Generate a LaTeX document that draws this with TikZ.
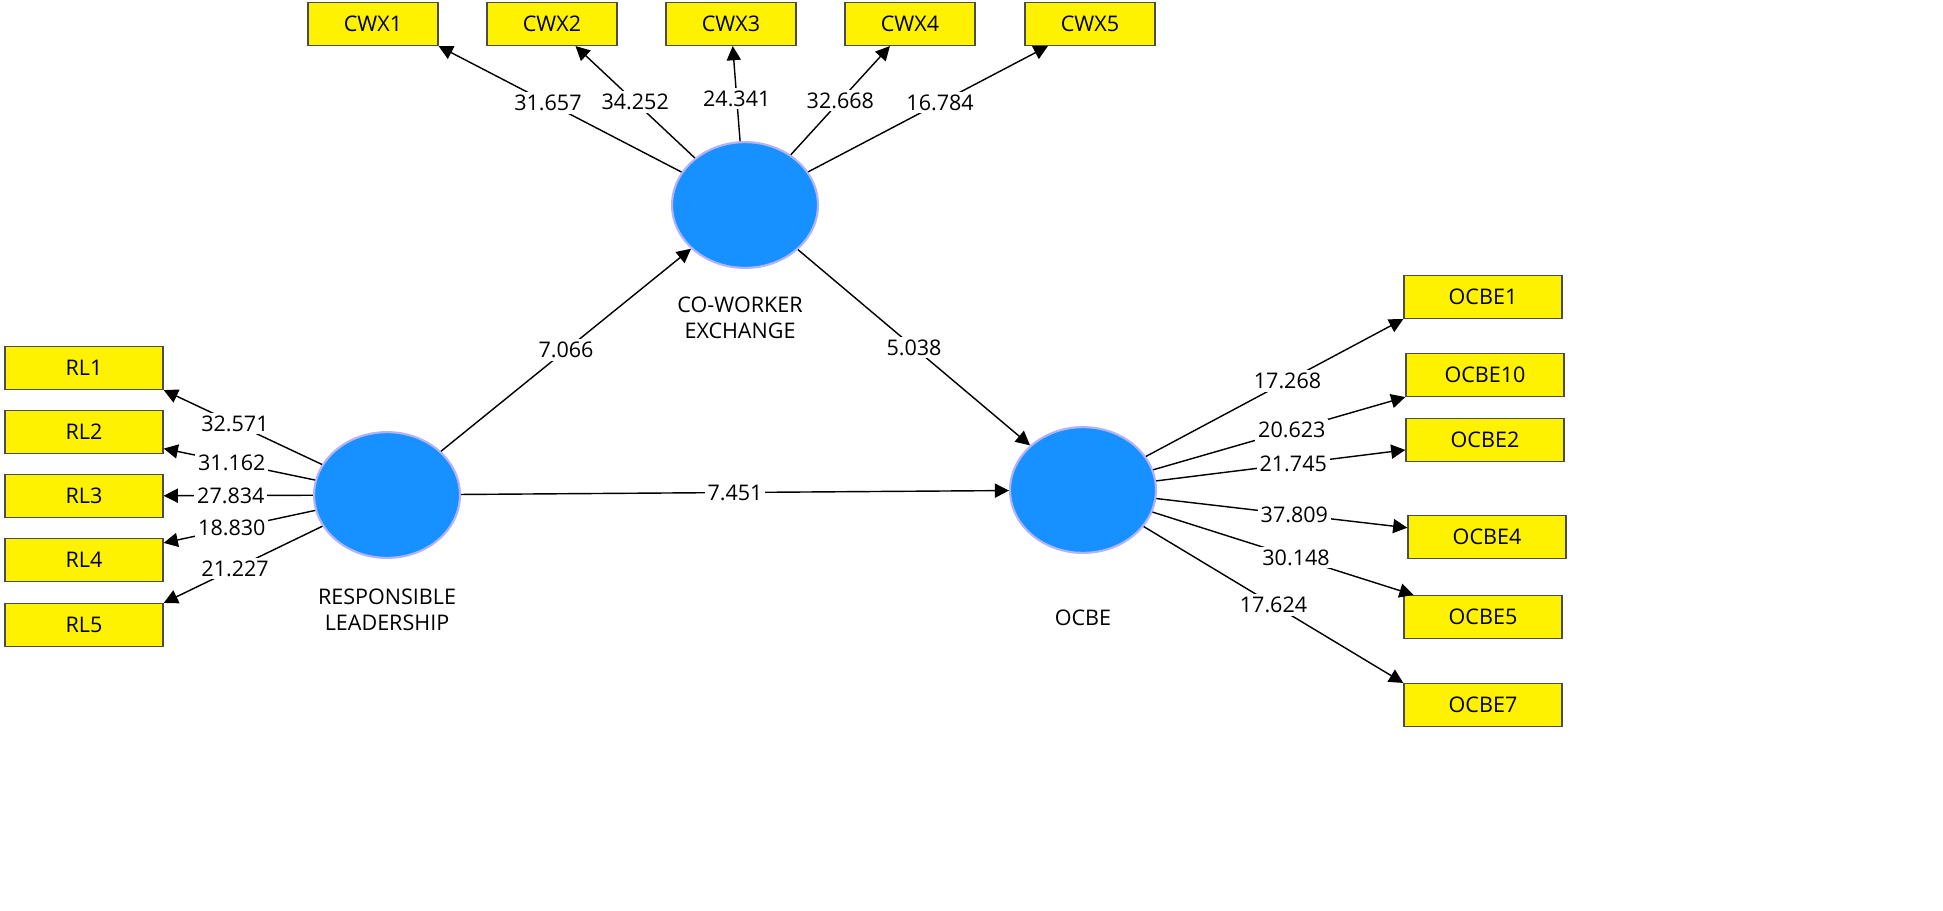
\documentclass[tikz,border=0pt]{standalone}
\usepackage{fontspec}
\setmainfont{Open Sans}
\usetikzlibrary{arrows.meta,shapes.geometric}

\tikzset{
  item/.style={draw=black!70, line width=0.5pt, fill=yellow, minimum width=1.61cm, minimum height=0.53cm, inner sep=0pt, font=\fontsize{7.6}{9}\selectfont},
  wideitem/.style={item, minimum width=1.96cm},
  construct/.style={ellipse, draw=blue!30, line width=0.75pt, fill={rgb,255:red,22;green,145;blue,255}, minimum width=1.81cm, minimum height=1.56cm, inner sep=0pt},
  caption/.style={align=center, font=\fontsize{7.6}{9}\selectfont},
  load/.style={-{Triangle[length=5pt,width=5pt]}, line width=0.5pt},
  coef/.style={fill=white, inner sep=1pt, font=\fontsize{7.6}{9}\selectfont}
}

\begin{document}
\begin{tikzpicture}[x=0.0124cm, y=-0.0124cm]
  \useasboundingbox (0,0) rectangle (1943,910);
  % constructs
  \node[construct] (cwx) at (745,205) {};
  \node[construct] (rl) at (387,495) {};
  \node[construct] (ocbe) at (1083,490) {};
  \node[caption] at (740,318) {CO-WORKER\\EXCHANGE};
  \node[caption] at (387,610) {RESPONSIBLE\\LEADERSHIP};
  \node[caption] at (1083,618) {OCBE};
  % indicators
  \node[item] (cwx1) at (373,24) {CWX1};
  \node[item] (cwx2) at (552,24) {CWX2};
  \node[item] (cwx3) at (731,24) {CWX3};
  \node[item] (cwx4) at (910,24) {CWX4};
  \node[item] (cwx5) at (1090,24) {CWX5};
  \node[wideitem] (rl1) at (84,368) {RL1};
  \node[wideitem] (rl2) at (84,432) {RL2};
  \node[wideitem] (rl3) at (84,496) {RL3};
  \node[wideitem] (rl4) at (84,560) {RL4};
  \node[wideitem] (rl5) at (84,625) {RL5};
  \node[wideitem] (ocbe1) at (1483,297) {OCBE1};
  \node[wideitem] (ocbe10) at (1485,375) {OCBE10};
  \node[wideitem] (ocbe2) at (1485,440) {OCBE2};
  \node[wideitem] (ocbe4) at (1487,537) {OCBE4};
  \node[wideitem] (ocbe5) at (1483,617) {OCBE5};
  \node[wideitem] (ocbe7) at (1483,705) {OCBE7};
  % outer loadings
  \draw[load] (cwx) -- node[coef, pos=0.55] {31.657} (cwx1.south east);
  \draw[load] (cwx) -- node[coef, pos=0.5] {34.252} (cwx2);
  \draw[load] (cwx) -- node[coef, pos=0.45] {24.341} (cwx3);
  \draw[load] (cwx) -- node[coef, pos=0.5] {32.668} (cwx4);
  \draw[load] (cwx) -- node[coef, pos=0.55] {16.784} (cwx5);
  \draw[load] (rl) -- node[coef, pos=0.55] {32.571} (rl1.south east);
  \draw[load] (rl) -- node[coef, pos=0.55] {31.162} (rl2);
  \draw[load] (rl) -- node[coef, pos=0.55] {27.834} (rl3);
  \draw[load] (rl) -- node[coef, pos=0.55] {18.830} (rl4);
  \draw[load] (rl) -- node[coef, pos=0.55] {21.227} (rl5.north east);
  \draw[load] (ocbe) -- node[coef, pos=0.55] {17.268} (ocbe1.south west);
  \draw[load] (ocbe) -- node[coef, pos=0.55] {20.623} (ocbe10.south west);
  \draw[load] (ocbe) -- node[coef, pos=0.55] {21.745} (ocbe2);
  \draw[load] (ocbe) -- node[coef, pos=0.55] {37.809} (ocbe4);
  \draw[load] (ocbe) -- node[coef, pos=0.55] {30.148} (ocbe5);
  \draw[load] (ocbe) -- node[coef, pos=0.5] {17.624} (ocbe7.north west);
  % structural paths
  \draw[load] (rl) -- node[coef] {7.066} (cwx);
  \draw[load] (cwx) -- node[coef] {5.038} (ocbe);
  \draw[load] (rl) -- node[coef] {7.451} (ocbe);
\end{tikzpicture}
\end{document}
